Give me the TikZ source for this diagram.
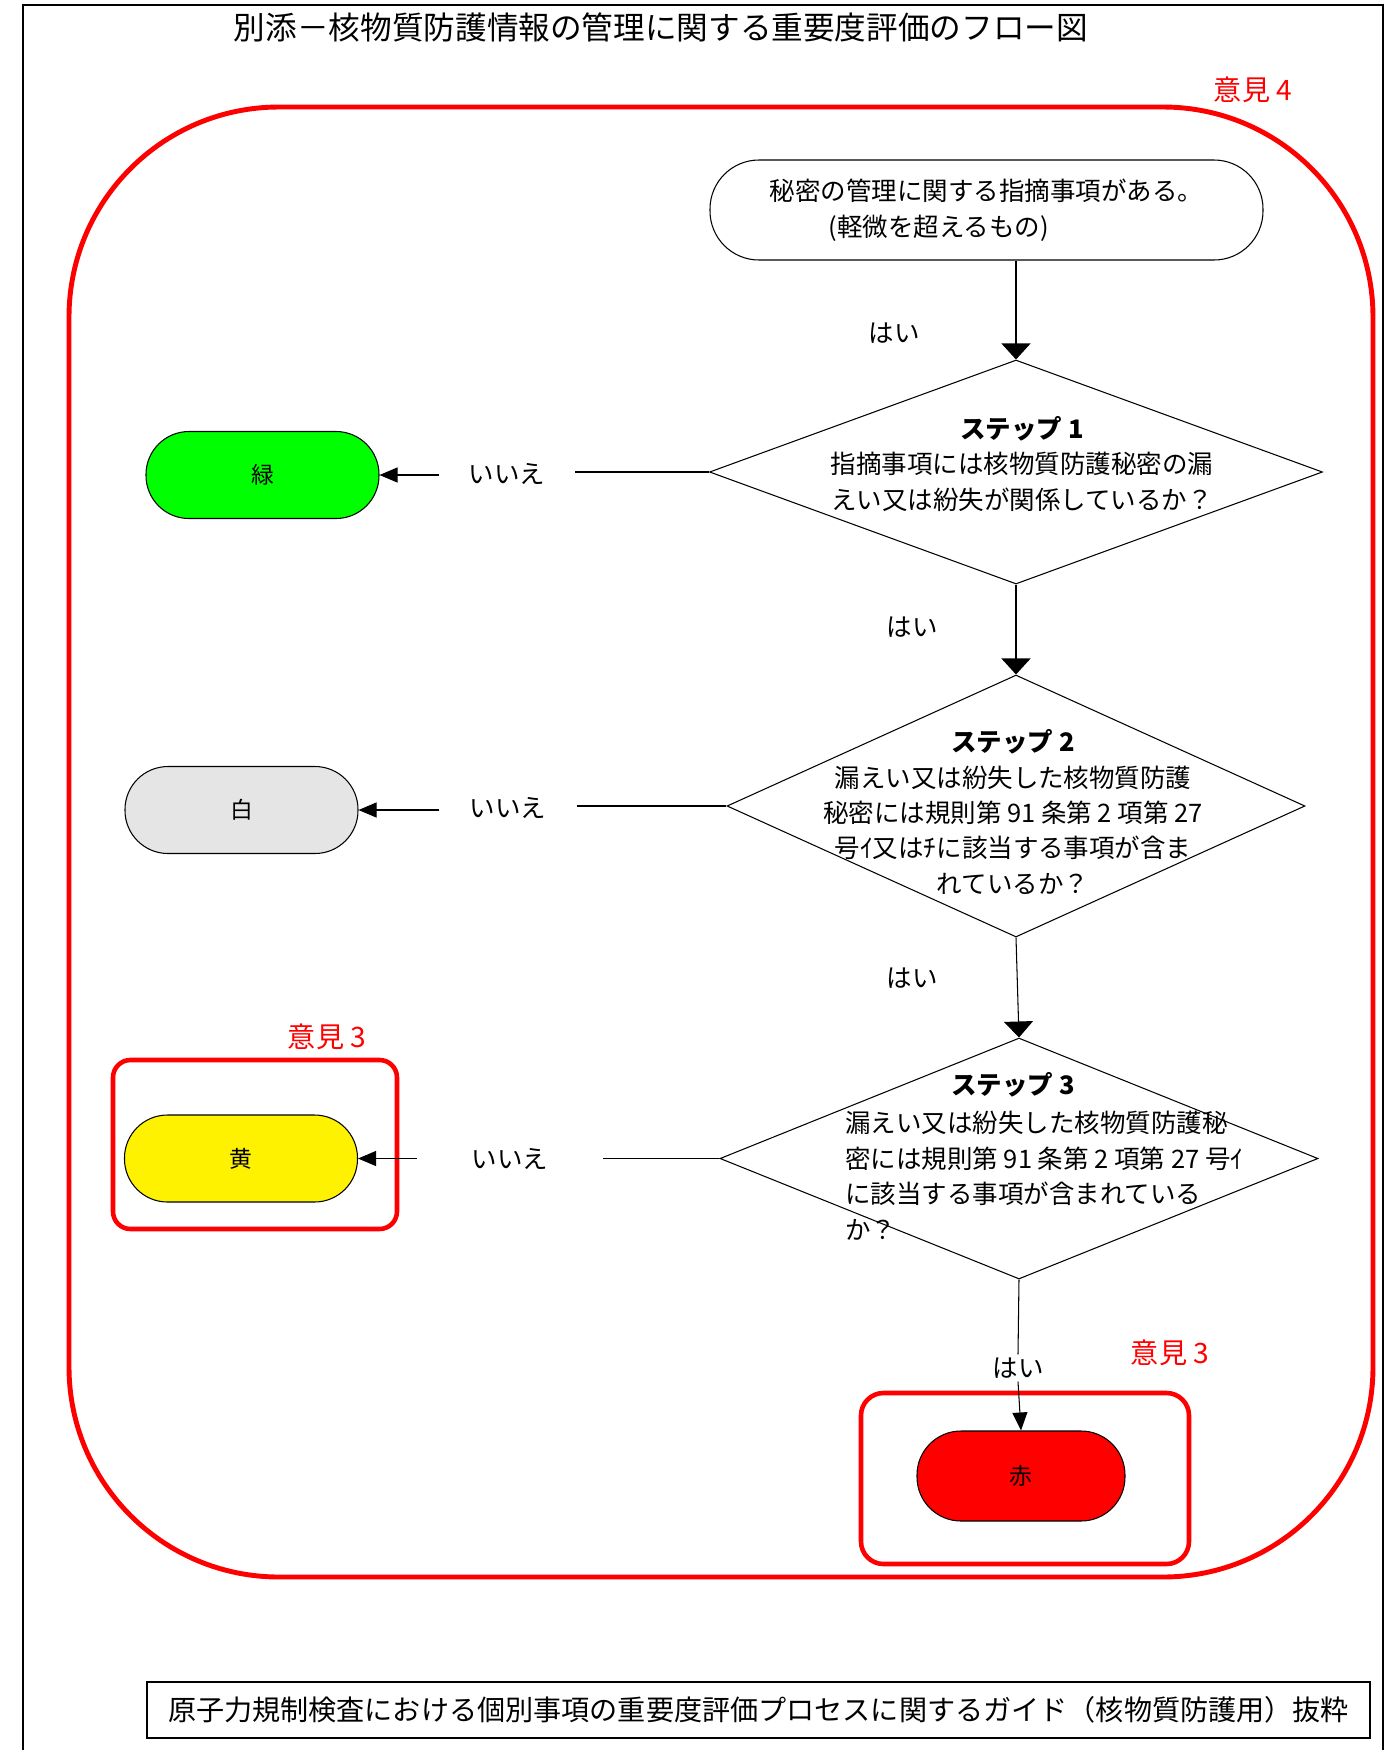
\documentclass[tikz,border=0pt]{standalone}
\usepackage{fontspec}
\setmainfont{Noto Sans CJK JP}
\usetikzlibrary{shapes.geometric,arrows.meta}

\begin{document}
\begin{tikzpicture}[font=\fontsize{14.5}{20.2}\selectfont,
  decision/.style={diamond, draw, line width=0.6pt, inner sep=0pt},
  result/.style={draw, line width=0.6pt, rounded corners=0.86cm, minimum width=4.66cm, minimum height=1.74cm, font=\fontsize{13}{15}\selectfont},
  opinion/.style={text=red, font=\fontsize{16}{19}\selectfont},
  redbox/.style={draw=red, line width=2.6pt},
  link/.style={line width=0.6pt},
  bigarrow/.style={line width=0.6pt, -{Triangle[width=0.58cm,length=0.32cm]}},
  smallarrow/.style={line width=0.6pt, -{Triangle[width=0.3cm,length=0.36cm]}}]
  \useasboundingbox (0,0) rectangle (27.92,-35);
  \draw[line width=1.2pt] (0.46,-35) |- (27.66,-0.1) -- (27.66,-35);
  \node[font=\fontsize{18}{22}\selectfont] (title) at (13.22,-0.54) {別添－核物質防護情報の管理に関する重要度評価のフロー図};
  \draw[redbox, line width=2.8pt, rounded corners=4.2cm] (1.38,-2.14) rectangle (27.46,-31.54);
  \node[opinion] (op4) at (25.06,-1.8) {意見 4};

  \node[draw, line width=0.6pt, rounded corners=0.98cm, minimum width=11.06cm, minimum height=2cm, align=left] (start) at (19.73,-4.2) {秘密の管理に関する指摘事項がある。\\\hspace{2.3em}(軽微を超えるもの)};

  \node[decision, minimum width=12.26cm, minimum height=4.48cm] (s1) at (20.32,-9.44) {};
  \node[align=center] (s1t) at (20.44,-9.28) {\textbf{ステップ 1}\\指摘事項には核物質防護秘密の漏\\えい又は紛失が関係しているか？};
  \node[decision, minimum width=11.56cm, minimum height=5.24cm] (s2) at (20.32,-16.12) {};
  \node[align=center] (s2t) at (20.26,-16.24) {\textbf{ステップ 2}\\漏えい又は紛失した核物質防護\\秘密には規則第 91 条第 2 項第 27\\号ｲ又はﾁに該当する事項が含ま\\れているか？};
  \node[decision, minimum width=11.96cm, minimum height=4.82cm] (s3) at (20.38,-23.17) {};
  \node (s3h) at (20.26,-21.7) {\textbf{ステップ 3}};
  \node[align=left, anchor=west, inner sep=0pt] (s3t) at (16.9,-23.51) {漏えい又は紛失した核物質防護秘\\密には規則第 91 条第 2 項第 27 号ｲ\\に該当する事項が含まれている\\か？};

  \node[result, fill=green] (green) at (5.25,-9.5) {緑};
  \node[result, fill=gray!20] (white) at (4.83,-16.2) {白};
  \node[result, fill=yellow] (yellow) at (4.82,-23.17) {黄};
  \node[result, fill=red, rounded corners=0.88cm, minimum width=4.16cm, minimum height=1.8cm] (red) at (20.42,-29.52) {赤};

  \draw[redbox, rounded corners=0.35cm] (2.26,-21.2) rectangle (7.94,-24.58);
  \draw[redbox, rounded corners=0.45cm] (17.22,-27.86) rectangle (23.78,-31.28);
  \node[opinion] (op3a) at (6.54,-20.74) {意見 3};
  \node[opinion] (op3b) at (23.4,-27.06) {意見 3};

  \node (yes1) at (17.88,-6.66) {はい};
  \node (yes2) at (18.24,-12.54) {はい};
  \node (yes3) at (18.24,-19.56) {はい};
  \node[inner ysep=0.06cm] (yes4) at (20.36,-27.36) {はい};
  \draw[bigarrow] (start.south -| s1.north) -- (s1.north);
  \draw[bigarrow] (s1.south) -- (s2.north);
  \draw[bigarrow] (s2.south) -- (s3.north);
  \draw[link] (s3.south) -- (yes4.north);
  \draw[smallarrow] (yes4.south) -- (red.north);

  \node[inner xsep=0.59cm, inner ysep=0pt] (no1) at (10.14,-9.47) {いいえ};
  \node[inner xsep=0.6cm, inner ysep=0pt] (no2) at (10.16,-16.16) {いいえ};
  \node[inner xsep=1.09cm, inner ysep=0pt] (no3) at (10.2,-23.17) {いいえ};
  \draw[link] (s1.west) -- (no1.east |- s1.west);
  \draw[smallarrow] (no1.west |- green.east) -- (green.east);
  \draw[link] (s2.west) -- (no2.east |- s2.west);
  \draw[smallarrow] (no2.west |- white.east) -- (white.east);
  \draw[link] (s3.west) -- (no3.east);
  \draw[smallarrow] (no3.west) -- (yellow.east);

  \node[draw, line width=1pt, minimum width=24.46cm, minimum height=1.12cm, font=\fontsize{16}{19}\selectfont] (src) at (15.17,-34.2) {原子力規制検査における個別事項の重要度評価プロセスに関するガイド（核物質防護用）抜粋};
\end{tikzpicture}
\end{document}
